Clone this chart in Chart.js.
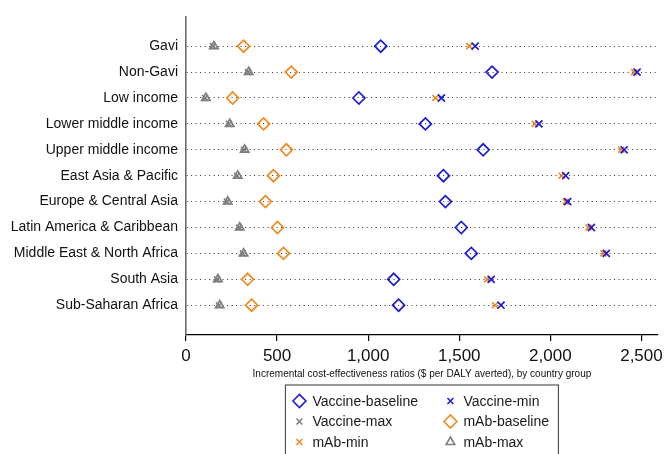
<!doctype html>
<html>

<head>
    <title>ICER by country group</title>
    <script src="https://cdn.jsdelivr.net/npm/chart.js"></script>
    <style>
        body { margin: 0; background: #fff; }
        #wrap { width: 668px; height: 454px; }
    </style>
</head>

<body>
    <div id="wrap">
        <canvas id="grafico" width="668" height="454"></canvas>
    </div>

    <script>
        // categories, top to bottom
        var grupos = ['Gavi', 'Non-Gavi', 'Low income', 'Lower middle income', 'Upper middle income',
            'East Asia & Pacific', 'Europe & Central Asia', 'Latin America & Caribbean',
            'Middle East & North Africa', 'South Asia', 'Sub-Saharan Africa'];

        // $ per DALY averted
        var vaccineBaseline = [1069, 1680, 949, 1314, 1631, 1413, 1424, 1511, 1566, 1140, 1167];
        var vaccineMin = [1587, 2476, 1402, 1937, 2405, 2084, 2095, 2225, 2307, 1675, 1729];
        var vaccineMax = [148, 340, 105, 236, 318, 280, 225, 291, 312, 170, 181];
        var mAbBaseline = [316, 578, 256, 426, 551, 480, 436, 502, 535, 338, 360];
        var mAbMin = [1555, 2460, 1369, 1915, 2389, 2062, 2084, 2209, 2291, 1653, 1696];
        var mAbMax = [153, 344, 109, 240, 322, 284, 229, 295, 316, 175, 185];

        var xTicks = [0, 500, 1000, 1500, 2000, 2500];

        var azul = '#1c1cd4';
        var laranja = '#f08a1e';
        var cinza = '#7f7f7f';
        var fonte = "'Liberation Sans', Arial, sans-serif";

        function pontos(valores) {
            return valores.map((v, i) => ({ x: v, y: i }));
        }

        function serie(label, valores, cor, estilo, raio, ordem) {
            return {
                label: label,
                data: pontos(valores),
                borderColor: cor,
                backgroundColor: 'rgba(0,0,0,0)',
                pointStyle: estilo,
                pointRadius: raio,
                pointBorderWidth: 1.7,
                showLine: false,
                order: ordem
            };
        }

        var series = [
            serie('Vaccine-baseline', vaccineBaseline, azul, 'rectRot', 6, 1),
            serie('Vaccine-min', vaccineMin, azul, 'crossRot', 5, 0),
            serie('Vaccine-max', vaccineMax, cinza, 'crossRot', 4.2, 3),
            serie('mAb-baseline', mAbBaseline, laranja, 'rectRot', 6, 2),
            serie('mAb-min', mAbMin, laranja, 'crossRot', 4.2, 1),
            serie('mAb-max', mAbMax, cinza, 'triangle', 4.8, 4)
        ];

        // legend in a box, two columns, like the original
        var legendaCaixa = {
            id: 'legendaCaixa',
            afterDraw(chart) {
                var ctx = chart.ctx;
                var ca = chart.chartArea;
                var cx = (ca.left + ca.right) / 2;
                var w = 273;
                var esq = cx - w / 2;
                var topo = ca.bottom + 50;
                ctx.save();
                ctx.strokeStyle = '#555';
                ctx.lineWidth = 1.2;
                ctx.strokeRect(esq, topo, w, 90);
                ctx.font = '14px ' + fonte;
                ctx.textBaseline = 'middle';
                ctx.textAlign = 'left';
                chart.data.datasets.forEach((ds, i) => {
                    var col = i % 2;
                    var lin = Math.floor(i / 2);
                    var mx = esq + 14 + col * 151;
                    var my = topo + 16 + lin * 20.5;
                    ctx.strokeStyle = ds.borderColor;
                    ctx.fillStyle = 'rgba(0,0,0,0)';
                    ctx.lineWidth = 1.6;
                    var r = ds.pointStyle === 'rectRot' ? 6.5 : (ds.pointStyle === 'triangle' ? 5 : 4.2);
                    Chart.helpers.drawPoint(ctx, { pointStyle: ds.pointStyle, radius: r, rotation: 0, borderWidth: 1.6 }, mx, my);
                    ctx.fillStyle = '#1a1a1a';
                    ctx.fillText(ds.label, mx + 13, my + 1);
                });
                ctx.restore();
            }
        };

        var grafico = new Chart(document.getElementById('grafico').getContext('2d'), {
            type: 'scatter',
            data: { datasets: series },
            plugins: [legendaCaixa],
            options: {
                responsive: false,
                animation: false,
                layout: { padding: { top: 14, right: 6, left: 0, bottom: 74 } },
                plugins: {
                    legend: { display: false },
                    tooltip: { enabled: false }
                },
                scales: {
                    x: {
                        type: 'linear',
                        min: 0,
                        max: 2590,
                        afterBuildTicks: s => { s.ticks = xTicks.map(v => ({ value: v })); },
                        afterFit: s => { s.height = 45; },
                        grid: {
                            drawOnChartArea: false,
                            drawTicks: true,
                            tickLength: 6,
                            color: '#000',
                            lineWidth: 1.2
                        },
                        border: { color: '#000', width: 1.3 },
                        ticks: {
                            color: '#111',
                            padding: 5,
                            font: { family: fonte, size: 17 },
                            maxRotation: 0
                        },
                        title: {
                            display: true,
                            text: 'Incremental cost-effectiveness ratios ($ per DALY averted), by country group',
                            color: '#111',
                            font: { family: fonte, size: 10 },
                            padding: { top: 0, bottom: 0 }
                        }
                    },
                    y: {
                        type: 'linear',
                        reverse: true,
                        min: -1.15,
                        max: grupos.length - 1 + 1.15,
                        afterBuildTicks: s => { s.ticks = grupos.map((_, i) => ({ value: i })); },
                        afterFit: s => { s.width = 186; },
                        grid: {
                            drawTicks: false,
                            color: '#333',
                            lineWidth: 1
                        },
                        // in v4 border.dash sets the dash of the grid lines
                        border: { color: '#6a6a6a', width: 1.6, dash: [1, 3.5] },
                        ticks: {
                            color: '#111',
                            padding: 8,
                            autoSkip: false,
                            font: { family: fonte, size: 14 },
                            callback: v => grupos[v]
                        }
                    }
                }
            }
        });
    </script>
</body>

</html>
